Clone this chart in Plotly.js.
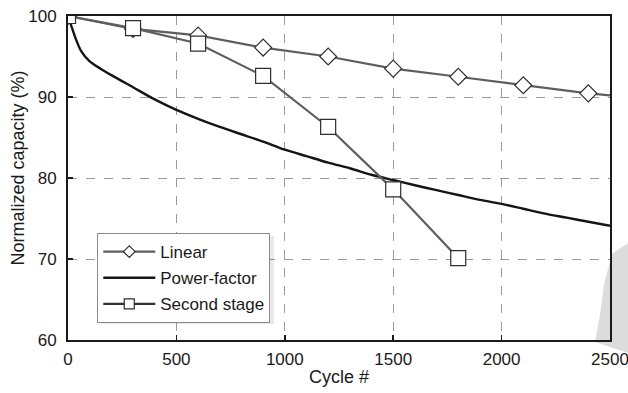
<!DOCTYPE html>
<html>
<head>
<meta charset="utf-8">
<script src="https://cdn.plot.ly/plotly-3.0.1.min.js"></script>
<style>html,body{margin:0;padding:0;background:#fff;}#chart{width:628px;height:393px;}</style>
</head>
<body>
<div id="chart"></div>
<script>
// Linear model (markers every 300 cycles, line continues to 2500)
const linearX = [0, 300, 600, 900, 1200, 1500, 1800, 2100, 2400];
const linearY = [100, 98.4, 97.6, 96.1, 95.0, 93.5, 92.5, 91.45, 90.45];
const linearTailX = [2400, 2500];
const linearTailY = [90.45, 90.2];

// Power-factor model
const powerX = [0, 10, 20, 40, 60, 100, 150, 200, 300, 400, 500, 600, 700, 800, 900, 1000,
                1100, 1200, 1300, 1400, 1500, 1600, 1700, 1800, 1900, 2000, 2100, 2200, 2300, 2400, 2500];
const powerY = [100, 99.2, 98.4, 96.9, 95.7, 94.4, 93.5, 92.7, 91.2, 89.7, 88.4, 87.3, 86.3, 85.4, 84.5, 83.5,
                82.7, 81.9, 81.2, 80.4, 79.75, 79.1, 78.5, 77.9, 77.3, 76.8, 76.2, 75.6, 75.1, 74.6, 74.1];

// Second stage model
const secondX = [0, 300, 600, 900, 1200, 1500, 1800];
const secondY = [100, 98.5, 96.6, 92.6, 86.3, 78.6, 70.1];

const xTicks = [0, 500, 1000, 1500, 2000, 2500];
const yTicks = [60, 70, 80, 90, 100];

const seriesNames = ['Linear', 'Power-factor', 'Second stage'];

const lineGrey = '#5e5e5e';
const markEdge = '#2e2e2e';
const fam = '"Liberation Sans", Arial, Helvetica, sans-serif';
const txt = '#1a1a1a';

const traces = [
  {x: linearTailX, y: linearTailY, mode: 'lines', line: {color: lineGrey, width: 2.2}, showlegend: false, hoverinfo: 'skip'},
  {x: linearX, y: linearY, mode: 'lines+markers', name: seriesNames[0], showlegend: false,
   line: {color: lineGrey, width: 2.2},
   marker: {symbol: 'diamond', size: 13, color: '#fff', line: {color: markEdge, width: 1.2}}},
  {x: powerX, y: powerY, mode: 'lines', name: seriesNames[1], showlegend: false,
   line: {color: '#151515', width: 2.4, shape: 'spline', smoothing: 0.8}},
  {x: secondX, y: secondY, mode: 'lines+markers', name: seriesNames[2], showlegend: false,
   line: {color: lineGrey, width: 2.2},
   marker: {symbol: 'square', size: 15, color: '#fff', line: {color: markEdge, width: 1.2}}},
  // legend entries (smaller symbols, as in the reference legend)
  {x: [null], y: [null], mode: 'lines+markers', name: seriesNames[0], legendgroup: 'a',
   line: {color: lineGrey, width: 2.2},
   marker: {symbol: 'diamond', size: 9, color: '#fff', line: {color: markEdge, width: 1.2}}},
  {x: [null], y: [null], mode: 'lines', name: seriesNames[1], legendgroup: 'b',
   line: {color: '#151515', width: 2.4}},
  {x: [null], y: [null], mode: 'lines+markers', name: seriesNames[2], legendgroup: 'c',
   line: {color: '#333', width: 2.2},
   marker: {symbol: 'square', size: 10, color: '#fff', line: {color: markEdge, width: 1.2}}}
];

const px = (v) => (v - 68) / 542;      // pixel x -> paper
const py = (v) => (340 - v) / 324;     // pixel y -> paper
const wm = [[628,243],[612,254],[604,285],[600,315],[595,342],[628,353]];
const wmPath = 'M ' + wm.map(p => px(p[0]).toFixed(4) + ',' + py(p[1]).toFixed(4)).join(' L ') + ' Z';

const layout = {
  width: 628, height: 393,
  margin: {l: 68, r: 18, t: 16, b: 53},
  paper_bgcolor: '#fff', plot_bgcolor: 'rgba(0,0,0,0)',
  font: {family: fam, size: 17, color: txt},
  showlegend: true,
  legend: {x: 0.054, y: 0.33, xanchor: 'left', yanchor: 'top',
           bgcolor: '#fff', bordercolor: '#8a8a8a', borderwidth: 1,
           itemwidth: 52, tracegroupgap: 1,
           font: {family: fam, size: 17, color: txt}},
  shapes: [
    {type: 'path', xref: 'paper', yref: 'paper', path: wmPath, fillcolor: '#dcdcdc', line: {width: 0}, layer: 'below'},
    {type: 'rect', xref: 'paper', yref: 'paper', x0: px(101), x1: px(274), y0: py(236), y1: py(324),
     fillcolor: 'rgba(0,0,0,0.09)', line: {width: 0}, layer: 'above'}
  ],
  annotations: [
    {text: 'Normalized capacity (%)', xref: 'paper', yref: 'paper', x: 0, xshift: -50.5, y: py(168),
     xanchor: 'center', yanchor: 'middle', textangle: -90, showarrow: false,
     font: {family: fam, size: 18, color: txt}}
  ],
  xaxis: {range: [0, 2500], tickvals: xTicks, ticktext: xTicks.map(String),
          showgrid: true, gridcolor: '#9a9a9a', griddash: 'dash', gridwidth: 1,
          zeroline: false, showline: true, linecolor: txt, linewidth: 2, mirror: true,
          ticks: 'inside', ticklen: 5, tickcolor: txt, tickwidth: 1.5,
          ticklabeloverflow: 'allow', ticklabelstandoff: 3,
          tickfont: {family: fam, size: 17, color: txt},
          title: {text: 'Cycle #', font: {family: fam, size: 18, color: txt}, standoff: 2}},
  yaxis: {range: [60, 100], tickvals: yTicks, ticktext: yTicks.map(String),
          showgrid: true, gridcolor: '#9a9a9a', griddash: 'dash', gridwidth: 1,
          zeroline: false, showline: true, linecolor: txt, linewidth: 2, mirror: true,
          ticks: 'inside', ticklen: 5, tickcolor: txt, tickwidth: 1.5,
          ticklabelstandoff: 6,
          tickfont: {family: fam, size: 17, color: txt}}
};

Plotly.newPlot('chart', traces, layout, {displayModeBar: false, staticPlot: true});
</script>
</body>
</html>
